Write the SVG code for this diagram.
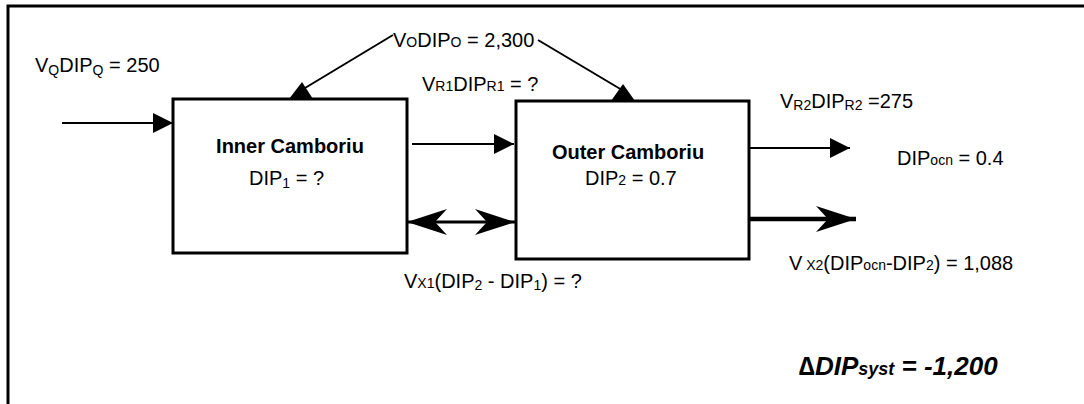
<svg xmlns="http://www.w3.org/2000/svg" width="1084" height="404" viewBox="0 0 1084 404">
  <style>
    text { font-family: "Liberation Sans", Arial, sans-serif; font-size: 20px; fill: #000; }
    .b { font-weight: bold; }
    .s { font-size: 14px; }
    .total { font-size: 26px; font-style: italic; font-weight: bold; }
    .total tspan { font-size: 18px; }
    .box { fill: #fff; stroke: #000; stroke-width: 3; }
    .ln { stroke: #000; stroke-width: 2; fill: none; }
    .thk { stroke: #000; stroke-width: 3; fill: none; }
    .thk4 { stroke: #000; stroke-width: 4.5; fill: none; }
  </style>
  <defs>
    <marker id="tri" viewBox="0 0 20 20" refX="20" refY="10" markerWidth="20" markerHeight="20" markerUnits="userSpaceOnUse" orient="auto-start-reverse">
      <path d="M0,0 L20,10 L0,20 z" fill="#000"/>
    </marker>
    <marker id="stealth" viewBox="0 0 40 26" refX="40" refY="13" markerWidth="40" markerHeight="26" markerUnits="userSpaceOnUse" orient="auto-start-reverse">
      <path d="M0,0 L40,13 L0,26 L12,13 z" fill="#000"/>
    </marker>
  </defs>

  <!-- outer frame -->
  <path d="M8,404 V6 H1084" fill="none" stroke="#000" stroke-width="3"/>

  <!-- nodes -->
  <g id="inner">
    <rect class="box" x="173" y="99" width="234" height="154"/>
    <text class="b" x="290" y="153" text-anchor="middle">Inner Camboriu</text>
    <text x="249" y="185">DIP<tspan class="s" dy="3">1</tspan><tspan dy="-3"> = ?</tspan></text>
  </g>
  <g id="outer">
    <rect class="box" x="516" y="101" width="233" height="158"/>
    <text class="b" x="628" y="159" text-anchor="middle">Outer Camboriu</text>
    <text x="585" y="185">DIP<tspan class="s">2</tspan> = 0.7</text>
  </g>

  <!-- connectors -->
  <g id="connectors">
    <line class="ln" x1="62" y1="123" x2="173" y2="123" marker-end="url(#tri)"/>
    <line class="ln" x1="393" y1="35" x2="305" y2="88"/>
    <polygon points="289,99 313,99 302,82" fill="#000"/>
    <line class="ln" x1="538" y1="40" x2="622" y2="90"/>
    <polygon points="611,101 635,101 623,84" fill="#000"/>
    <line class="ln" x1="412" y1="144" x2="514" y2="144" marker-end="url(#tri)"/>
    <line class="thk" x1="407" y1="222" x2="515" y2="222" marker-start="url(#stealth)" marker-end="url(#stealth)"/>
    <line class="ln" x1="749" y1="148" x2="850" y2="148" marker-end="url(#tri)"/>
    <line class="thk4" x1="749" y1="219" x2="856" y2="219" marker-end="url(#stealth)"/>
  </g>

  <!-- flow labels -->
  <g id="labels">
    <text x="35" y="72">V<tspan class="s" dy="3">Q</tspan><tspan dy="-3">DIP</tspan><tspan class="s" dy="3">Q</tspan><tspan dy="-3"> = 250</tspan></text>
    <text x="393" y="47">V<tspan class="s">O</tspan>DIP<tspan class="s">O</tspan> = 2,300</text>
    <text x="422" y="91">V<tspan class="s">R1</tspan>DIP<tspan class="s">R1</tspan> = ?</text>
    <text x="780" y="108">V<tspan class="s" dy="2">R2</tspan><tspan dy="-2">DIP</tspan><tspan class="s" dy="2">R2</tspan><tspan dy="-2"> =275</tspan></text>
    <text x="897" y="165">DIP<tspan class="s">ocn</tspan> = 0.4</text>
    <text x="789" y="270">V<tspan class="s"> X2</tspan>(DIP<tspan class="s">ocn</tspan>-DIP<tspan class="s">2</tspan>) = 1,088</text>
    <text x="404" y="288">V<tspan class="s">X1</tspan>(DIP<tspan class="s" dy="2">2</tspan><tspan dy="-2"> - DIP</tspan><tspan class="s" dy="2">1</tspan><tspan dy="-2">) = ?</tspan></text>
    <text class="total" x="799" y="375">∆DIP<tspan>syst</tspan> = -1,200</text>
  </g>
</svg>
